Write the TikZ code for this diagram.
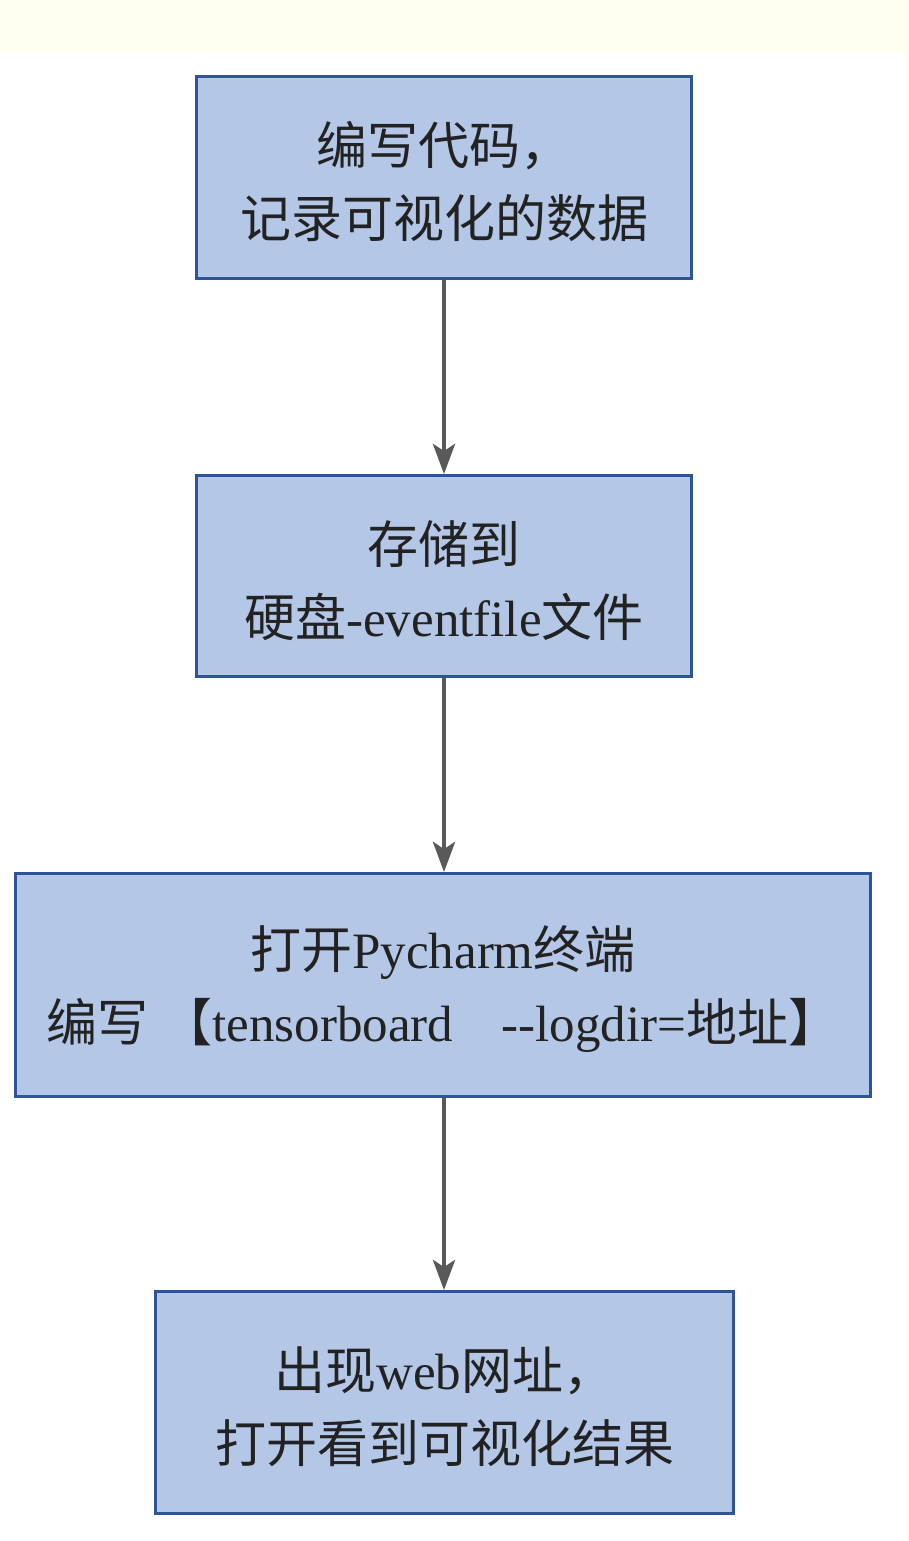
\documentclass[tikz,border=0pt]{standalone}
\usepackage{fontspec}
\setmainfont{Liberation Serif}
\newfontfamily\cj{Noto Sans CJK SC}
\usetikzlibrary{arrows.meta}
\definecolor{boxfill}{HTML}{B4C7E7}
\definecolor{boxline}{HTML}{2F5597}
\definecolor{arrowgray}{HTML}{595959}
\definecolor{bandyellow}{HTML}{FFFEF0}
\definecolor{txt}{HTML}{222222}
\newcommand\stepcontent[3]{\parbox[c][#2][c]{#1}{\centering\vspace*{9pt}#3\par}}
\tikzset{
  stepbox/.style={draw=boxline, line width=3pt, fill=boxfill,
    inner sep=0pt, text=txt, font=\fontsize{51}{73}\selectfont},
  flow/.style={draw=arrowgray, line width=4.5pt,
    -{Stealth[length=30pt,width=22pt,inset=7pt]}}
}
\begin{document}
\begin{tikzpicture}[x=1pt,y=-1pt]
\useasboundingbox (0,0) rectangle (909,1541);
\fill[white] (0,0) rectangle (909,1541);
\fill[bandyellow] (0,0) rectangle (909,52);
\fill[bandyellow] (906,52) rectangle (909,1541);
\node[stepbox] (n1) at (444,177.5)
  {\stepcontent{495pt}{202pt}{{\cj 编写代码，}\\{\cj 记录可视化的数据}}};
\node[stepbox] (n2) at (444,576)
  {\stepcontent{495pt}{201pt}{{\cj 存储到}\\{\cj 硬盘}-eventfile{\cj 文件}}};
\node[stepbox] (n3) at (443,985)
  {\stepcontent{855pt}{223pt}{{\cj 打开}Pycharm{\cj 终端}\\{\cj 编写} {\cj 【}tensorboard\hspace{0.95em}-{}-logdir={\cj 地址】}}};
\node[stepbox] (n4) at (444.5,1402.5)
  {\stepcontent{578pt}{222pt}{{\cj 出现}web{\cj 网址，}\\{\cj 打开看到可视化结果}}};
\draw[flow] (n1.south) -- (n2.north);
\draw[flow] (n2.south) -- (n2.south |- n3.north);
\draw[flow] (n2.south |- n3.south) -- (n2.south |- n4.north);
\end{tikzpicture}
\end{document}
